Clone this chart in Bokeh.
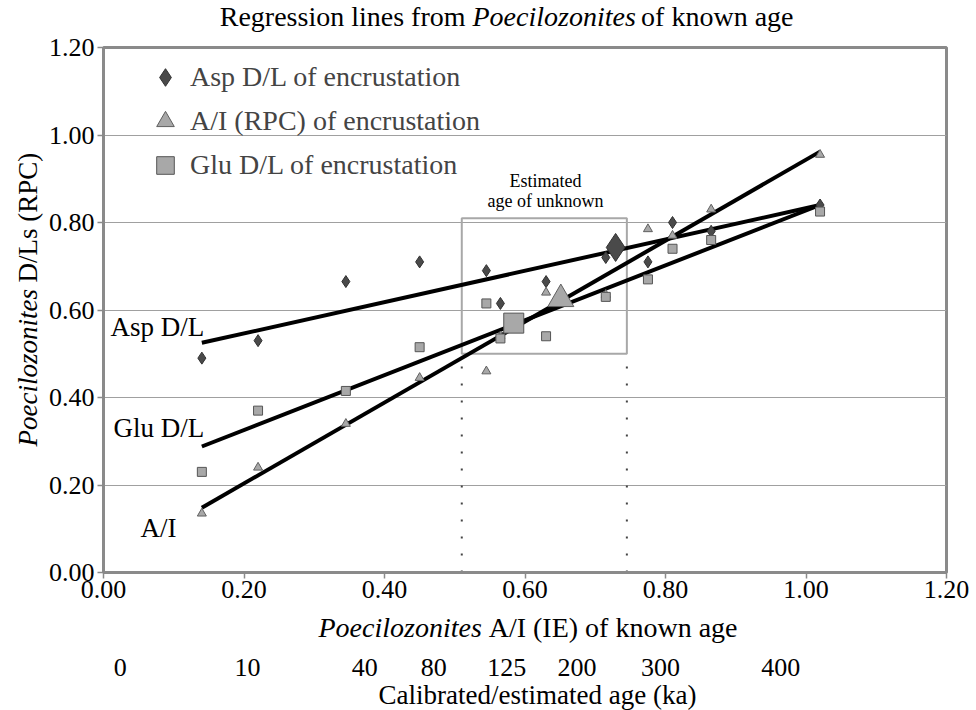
import numpy as np
from bokeh.plotting import figure
from bokeh.layouts import column, row
from bokeh.models import (Range1d, FixedTicker, Label, Legend, LegendItem,
                          NumeralTickFormatter)
from bokeh.embed import file_html
from bokeh.resources import INLINE

# ---------------- data ----------------
known_ai = [0.14, 0.22, 0.345, 0.45, 0.545, 0.565, 0.63, 0.715, 0.775, 0.81, 0.865, 1.02]
asp_dl = [0.49, 0.53, 0.665, 0.71, 0.69, 0.615, 0.665, 0.72, 0.71, 0.80, 0.78, 0.84]
ai_rpc = [0.135, 0.24, 0.34, 0.445, 0.46, 0.54, 0.64, 0.635, 0.785, 0.77, 0.83, 0.955]
glu_dl = [0.23, 0.37, 0.415, 0.515, 0.615, 0.535, 0.54, 0.63, 0.67, 0.74, 0.76, 0.825]

fit_x = [0.14, 1.02]
asp_fit = [0.525, 0.84]
ai_fit = [0.148, 0.962]
glu_fit = [0.288, 0.84]

unknown_asp_x, unknown_asp_y = [0.729], [0.743]
unknown_ai_x, unknown_ai_y = [0.651], [0.625]
unknown_glu_x, unknown_glu_y = [0.584], [0.57]

est_left, est_right = [0.51], [0.745]
est_bottom, est_top = [0.50], [0.81]

ka_pos = [0.024, 0.205, 0.372, 0.470, 0.574, 0.674, 0.793, 0.964]
ka_labels = ["0", "10", "40", "80", "125", "200", "300", "400"]

axis_ticks = [0.0, 0.2, 0.4, 0.6, 0.8, 1.0, 1.2]

FONT = "Liberation Serif"
GRAY = "#8a8a8a"

x_range = Range1d(0, 1.2)


def text_fig(w, h, **kw):
    f = figure(width=w, height=h, x_axis_type=None, y_axis_type=None, title=None,
               toolbar_location=None, output_backend="svg", outline_line_color=None,
               y_range=Range1d(0, 1), **kw)
    f.background_fill_color = "white"
    f.border_fill_color = "white"
    return f


def lab(fig, text, x, y, size=27, style="normal", align="left", angle=0.0, x_units="screen"):
    # y (or x for rotated text) is the wanted baseline; Bokeh draws the
    # alphabetic baseline about 0.37em lower, so compensate for that here
    shift = round(0.37 * size)
    if angle:
        x = x - shift
    else:
        y = y + shift
    fig.add_layout(Label(x=x, y=y, x_units=x_units, y_units="screen", text=text,
                         text_font=FONT, text_font_size=f"{size}px", text_font_style=style,
                         text_align=align, text_baseline="alphabetic", angle=angle,
                         text_color="black"))


# ---------------- title strip (frame is aligned with the plot frame: left edge x=103) ----
tfig = text_fig(976, 32, x_range=Range1d(0, 1), min_border=0)
lab(tfig, "Regression lines from", 362, 6, size=28, align="right")
lab(tfig, "Poecilozonites", 369, 6, size=28, style="italic")
lab(tfig, "of known age", 690, 6, size=28, align="right")

# ---------------- y-axis title strip (frame bottom aligned with plot frame bottom) ----
yfig = text_fig(45, 576, x_range=Range1d(0, 1), min_border=0)
lab(yfig, "Poecilozonites", 37, 126, style="italic", angle=np.pi / 2)
lab(yfig, "D/Ls (RPC)", 37, 290, angle=np.pi / 2)

# ---------------- main plot ----------------
p = figure(width=931, height=576, x_range=x_range, y_range=Range1d(0, 1.2), title=None,
           output_backend="svg", toolbar_location=None,
           min_border_left=58, min_border_right=30, min_border_top=15, min_border_bottom=36,
           outline_line_color=GRAY, outline_line_width=3)
p.background_fill_color = "white"
p.border_fill_color = "white"

for ax in (p.xaxis[0], p.yaxis[0]):
    ax.ticker = FixedTicker(ticks=axis_ticks)
    ax.formatter = NumeralTickFormatter(format="0.00")
    ax.axis_line_color = GRAY
    ax.axis_line_width = 3
    ax.major_tick_line_color = GRAY
    ax.major_tick_line_width = 1.5
    ax.major_tick_out = 6
    ax.major_tick_in = 0
    ax.minor_tick_line_color = None
    ax.major_label_text_font = FONT
    ax.major_label_text_font_size = "26px"
    ax.major_label_text_color = "black"
p.xaxis[0].major_label_standoff = 2
p.yaxis[0].major_label_standoff = 3

p.xgrid.visible = False
p.ygrid.grid_line_color = "#a0a0a0"
p.ygrid.grid_line_width = 1

# estimate box and dotted guides
p.quad(left=est_left, right=est_right, bottom=est_bottom, top=est_top,
       fill_alpha=0, line_color="#a8a8a8", line_width=2)
p.segment(x0=est_left + est_right, y0=[0, 0], x1=est_left + est_right,
          y1=est_bottom + est_bottom, line_color="#444444", line_width=2, line_dash="2 15")

# regression lines
for fy in (asp_fit, ai_fit, glu_fit):
    p.line(fit_x, fy, line_color="black", line_width=4)

# known-age points
p.scatter(known_ai, asp_dl, marker="diamond", size=12, fill_color="#4a4a4a", line_color="#303030")
p.scatter(known_ai, ai_rpc, marker="triangle", size=9, fill_color="#a8a8a8", line_color="#606060")
p.scatter(known_ai, glu_dl, marker="square", size=9, fill_color="#a8a8a8", line_color="#555555")

# unknown (encrustation) points
r_asp = p.scatter(unknown_asp_x, unknown_asp_y, marker="diamond", size=28,
                  fill_color="#4a4a4a", line_color="#303030")
r_ai = p.scatter(unknown_ai_x, unknown_ai_y, marker="triangle", size=26,
                 fill_color="#a8a8a8", line_color="#606060")
r_glu = p.scatter(unknown_glu_x, unknown_glu_y, marker="square", size=20,
                  fill_color="#a8a8a8", line_color="#555555")

legend = Legend(items=[LegendItem(label="Asp D/L of encrustation", renderers=[r_asp]),
                       LegendItem(label="A/I (RPC) of encrustation", renderers=[r_ai]),
                       LegendItem(label="Glu D/L of encrustation", renderers=[r_glu])],
                location=(40, 385), glyph_width=44, glyph_height=44, spacing=0,
                padding=0, margin=0, border_line_color=None, background_fill_alpha=0,
                label_text_font=FONT, label_text_font_size="28px", label_standoff=3)
p.add_layout(legend)

# series labels
lab(p, "Asp D/L", 7, 236)
lab(p, "Glu D/L", 10, 135)
lab(p, "A/I", 37, 35)

# estimate annotation
lab(p, "Estimated", 442, 385, size=18, align="center")
lab(p, "age of unknown", 442, 365, size=18, align="center")

# ---------------- bottom strip: x title, age scale ----------------
bfig = text_fig(976, 102, x_range=x_range, min_border_left=103, min_border_right=30,
                min_border_top=0, min_border_bottom=0)
lab(bfig, "Poecilozonites", 215, 73, size=28, style="italic")
lab(bfig, "A/I (IE) of known age", 634, 73, size=28, align="right")
for pos, txt in zip(ka_pos, ka_labels):
    lab(bfig, txt, pos, 33, size=26, align="center", x_units="data")
lab(bfig, "Calibrated/estimated age (ka)", 434, 6, align="center")

layout = column(tfig, row(yfig, p), bfig)
open("out.html", "w").write(file_html(layout, INLINE))
